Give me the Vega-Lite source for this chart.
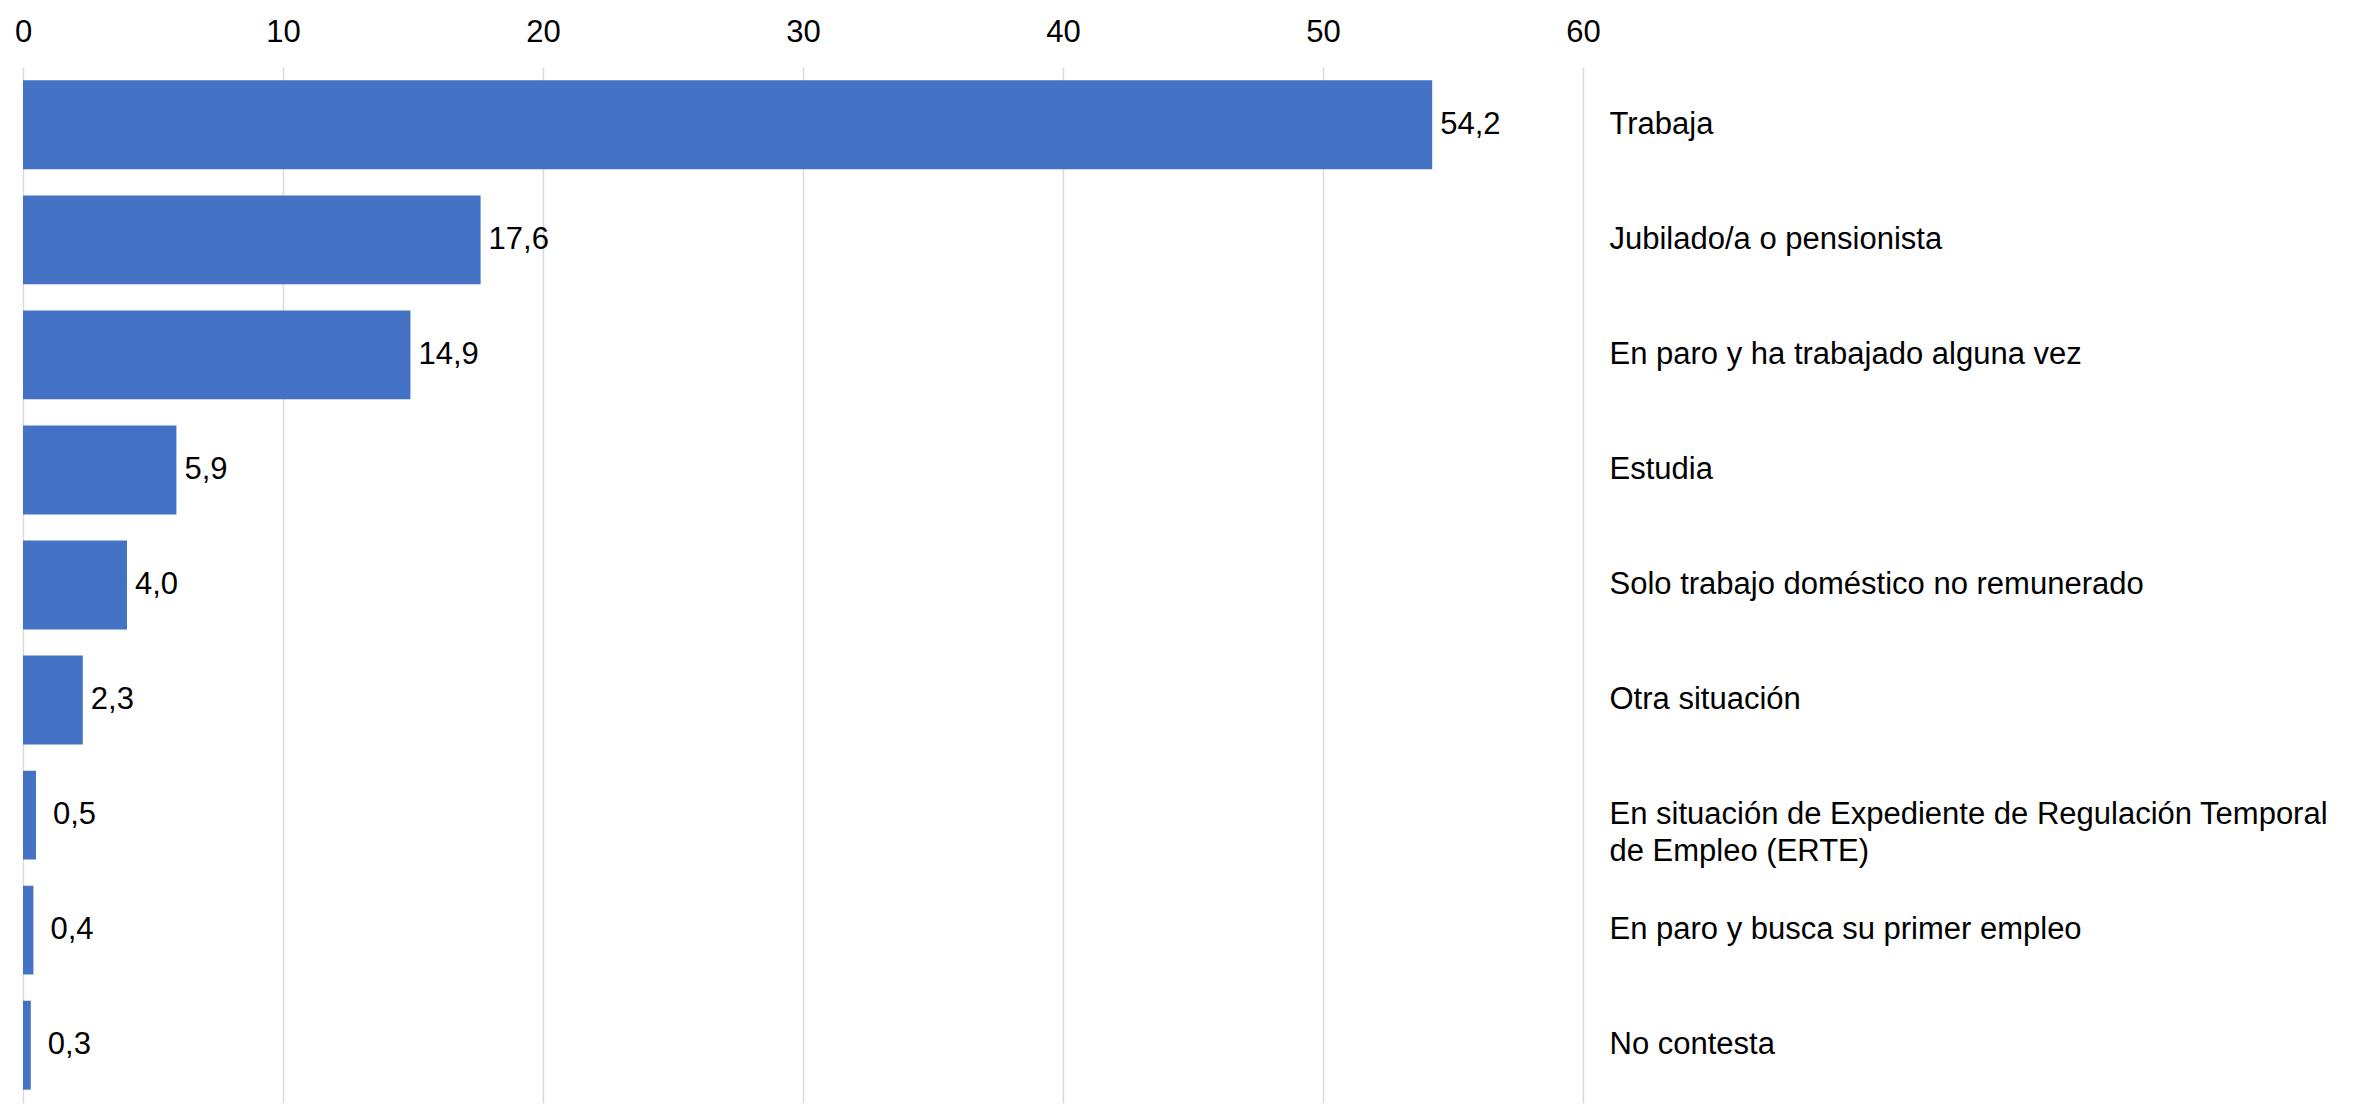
{
  "$schema": "https://vega.github.io/schema/vega-lite/v6.json",
  "autosize": {"type": "none"},
  "padding": {"left": 23, "top": 67, "right": 779, "bottom": 1},
  "width": 1560,
  "height": 1036,
  "background": "white",
  "config": {
    "font": "Liberation Sans",
    "view": {"stroke": null},
    "locale": {"number": {"decimal": ",", "thousands": ".", "grouping": [3], "currency": ["", " €"]}}
  },
  "data": {
    "values": [
      {"situacion": "Trabaja", "valor": 54.2},
      {"situacion": "Jubilado/a o pensionista", "valor": 17.6},
      {"situacion": "En paro y ha trabajado alguna vez", "valor": 14.9},
      {"situacion": "Estudia", "valor": 5.9},
      {"situacion": "Solo trabajo doméstico no remunerado", "valor": 4.0},
      {"situacion": "Otra situación", "valor": 2.3},
      {"situacion": "En situación de Expediente de Regulación Temporal de Empleo (ERTE)", "valor": 0.5},
      {"situacion": "En paro y busca su primer empleo", "valor": 0.4},
      {"situacion": "No contesta", "valor": 0.3}
    ]
  },
  "encoding": {
    "y": {
      "field": "situacion",
      "type": "nominal",
      "sort": null,
      "scale": {"paddingInner": 0.227, "paddingOuter": 0.116},
      "axis": {
        "orient": "right",
        "title": null,
        "ticks": false,
        "domain": false,
        "grid": false,
        "labelPadding": 26,
        "labelFontSize": 31,
        "labelColor": "#000000",
        "labelAlign": "left",
        "labelLimit": 0,
        "labelLineHeight": 37,
        "labelExpr": "datum.value == 'En situación de Expediente de Regulación Temporal de Empleo (ERTE)' ? ['En situación de Expediente de Regulación Temporal', 'de Empleo (ERTE)'] : datum.label"
      }
    },
    "x": {
      "field": "valor",
      "type": "quantitative",
      "scale": {"domain": [0, 60], "nice": false},
      "axis": {
        "orient": "top",
        "title": null,
        "values": [0, 10, 20, 30, 40, 50, 60],
        "ticks": false,
        "domain": false,
        "grid": true,
        "gridColor": "#d9d9d9",
        "gridWidth": 1.5,
        "labelPadding": 19,
        "labelFontSize": 31,
        "labelColor": "#000000",
        "labelFlush": false
      }
    }
  },
  "layer": [
    {"mark": {"type": "bar", "color": "#4472C4"}},
    {
      "transform": [{"filter": "datum.valor >= 1"}],
      "mark": {"type": "text", "align": "left", "baseline": "middle", "dx": 8, "fontSize": 31, "color": "#000000"},
      "encoding": {"text": {"field": "valor", "type": "quantitative", "format": ".1f"}}
    },
    {
      "transform": [{"filter": "datum.valor < 1"}],
      "mark": {"type": "text", "align": "left", "baseline": "middle", "dx": 17, "fontSize": 31, "color": "#000000"},
      "encoding": {"text": {"field": "valor", "type": "quantitative", "format": ".1f"}}
    }
  ]
}
